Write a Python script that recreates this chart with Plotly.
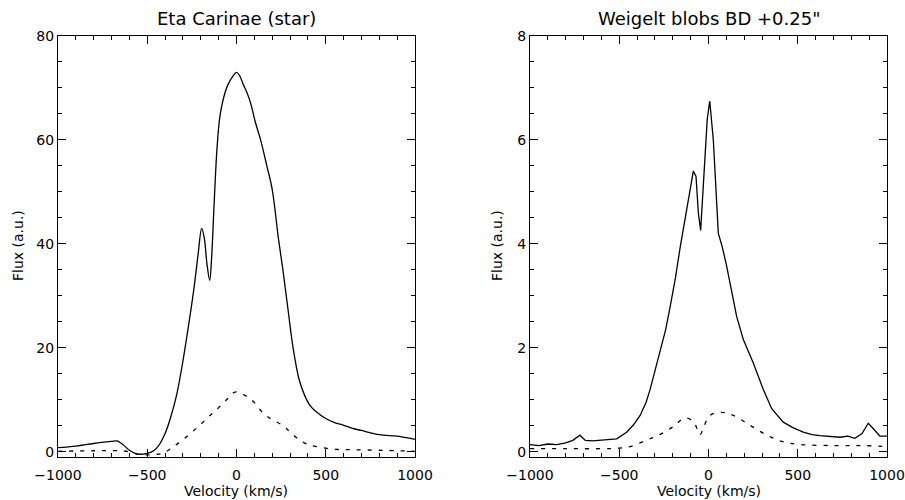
import plotly.graph_objects as go

# Left panel: Eta Carinae (star)
star_v = [-1000, -900, -800, -700, -670, -640, -600, -560, -500, -460, -430, -400, -370, -335, -300, -270, -240, -215, -195,
          -180, -165, -150, -140, -125, -110, -95, -80, -50, -20, 0, 15, 40, 60, 80, 105, 135, 170, 200, 235, 260, 290,
          317, 350, 380, 410, 450, 500, 550, 600, 650, 700, 800, 900, 1000]
star_f = [0.8, 1.1, 1.6, 2.0, 2.1, 1.5, 0.3, -0.4, -0.3, 0.3, 1.5, 3.5, 6.5, 11.0, 17.5, 24.0, 31.0, 38.0, 43.0,
          41.0, 36.0, 33.0, 37.0, 48.0, 58.0, 64.0, 67.0, 70.5, 72.3, 73.0, 72.5, 70.5, 69.0, 67.0, 63.5, 60.0, 55.0, 50.5, 41.0, 35.0, 27.0,
          20.0, 14.0, 11.0, 9.0, 7.6, 6.4, 5.6, 5.1, 4.5, 4.1, 3.3, 3.0, 2.4]
star_dash_v = [-1000, -800, -650, -600, -550, -500, -450, -408, -353, -280, -200, -148, -100, -50, -8, 50, 100, 150, 200, 262,
               300, 356, 400, 450, 543, 650, 800, 1000]
star_dash_f = [0.1, 0.2, 0.2, 0.0, -0.5, -0.6, -0.5, -0.2, 1.0, 2.9, 5.3, 7.0, 8.5, 10.2, 11.5, 10.8, 9.5, 7.4, 6.2, 5.0,
               3.8, 2.2, 1.4, 1.0, 0.5, 0.4, 0.3, 0.1]

# Right panel: Weigelt blobs BD +0.25"
blob_v = [-1000, -950, -900, -850, -800, -760, -720, -690, -650, -600, -570, -514, -457, -420, -383, -350, -327, -300, -271, -240,
          -215, -185, -159, -146, -120, -103, -85, -70, -57, -44, -29, -7, 7, 27, 55, 75, 100, 121, 158, 195, 251, 307,
          354, 419, 470, 531, 580, 624, 680, 736, 780, 820, 860, 895, 930, 960, 1000]
blob_f = [0.14, 0.12, 0.15, 0.14, 0.17, 0.22, 0.32, 0.22, 0.21, 0.22, 0.23, 0.25, 0.38, 0.52, 0.7, 0.95, 1.2, 1.55, 1.9, 2.35,
          2.79, 3.35, 3.93, 4.2, 4.75, 5.07, 5.4, 5.3, 4.6, 4.26, 5.1, 6.4, 6.75, 6.0, 4.2, 3.97, 3.6, 3.23, 2.6, 2.16, 1.71, 1.2,
          0.83, 0.57, 0.47, 0.38, 0.33, 0.31, 0.3, 0.28, 0.3, 0.26, 0.35, 0.55, 0.42, 0.3, 0.3]
blob_dash_v = [-1000, -800, -600, -500, -440, -350, -280, -199, -133, -85, -47, -29, 8, 73, 139, 233, 327, 420, 514, 700, 850, 1000]
blob_dash_f = [0.06, 0.06, 0.06, 0.07, 0.1, 0.22, 0.32, 0.48, 0.65, 0.58, 0.33, 0.46, 0.7, 0.76, 0.7, 0.51, 0.32, 0.19, 0.14, 0.12, 0.12, 0.1]

FONT = "DejaVu Sans"

fig = go.Figure()
line_solid = dict(color="black", width=1.3)
line_dash = dict(color="black", width=1.3, dash="4px,7px")

fig.add_trace(go.Scatter(x=star_v, y=star_f, mode="lines", line=line_solid, xaxis="x", yaxis="y", line_shape="spline"))
fig.add_trace(go.Scatter(x=star_dash_v, y=star_dash_f, mode="lines", line=line_dash, xaxis="x", yaxis="y", line_shape="spline"))
fig.add_trace(go.Scatter(x=blob_v, y=blob_f, mode="lines", line=line_solid, xaxis="x2", yaxis="y2"))
fig.add_trace(go.Scatter(x=blob_dash_v, y=blob_dash_f, mode="lines", line=line_dash, xaxis="x2", yaxis="y2", line_shape="spline"))

ydom = [1 - 457 / 500, 1 - 36 / 500]
common = dict(showline=True, linecolor="black", linewidth=1, mirror="ticks", ticks="inside", ticklen=8,
              tickcolor="black", showgrid=False, zeroline=False, automargin=False,
              tickfont=dict(family=FONT, size=14, color="black"))

xcommon = dict(common, range=[-1000, 1000], dtick=500, tick0=0, ticklabelstandoff=5,
               minor=dict(ticks="inside", ticklen=4, dtick=100, tickcolor="black", showgrid=False))

fig.update_layout(
    width=905, height=500, margin=dict(l=0, r=0, t=0, b=0, autoexpand=False),
    paper_bgcolor="white", plot_bgcolor="white", showlegend=False,
    xaxis=dict(xcommon, domain=[58 / 905, 415 / 905], anchor="y"),
    yaxis=dict(common, domain=ydom, range=[-1, 80], dtick=20, tick0=0, anchor="x",
               minor=dict(ticks="inside", ticklen=4, dtick=5, tickcolor="black", showgrid=False)),
    xaxis2=dict(xcommon, domain=[530 / 905, 887 / 905], anchor="y2"),
    yaxis2=dict(common, domain=ydom, range=[-0.1, 8], dtick=2, tick0=0, anchor="x2",
                minor=dict(ticks="inside", ticklen=4, dtick=0.5, tickcolor="black", showgrid=False)),
)

ann_font = dict(family=FONT, size=14, color="black")
title_font = dict(family=FONT, size=18, color="black")


def label(text, px, py, font, angle=0):
    fig.add_annotation(text=text, x=px / 905, y=1 - py / 500, xref="paper", yref="paper",
                       xanchor="center", yanchor="middle", showarrow=False, textangle=angle, font=font)


label("Eta Carinae (star)", 236.5, 18, title_font)
label("Weigelt blobs BD +0.25\"", 708.5, 18, title_font)
label("Velocity (km/s)", 236.5, 491, ann_font)
label("Velocity (km/s)", 708.5, 491, ann_font)
label("Flux (a.u.)", 18, 246, ann_font, -90)
label("Flux (a.u.)", 497, 246, ann_font, -90)

fig.write_html("out.html")
